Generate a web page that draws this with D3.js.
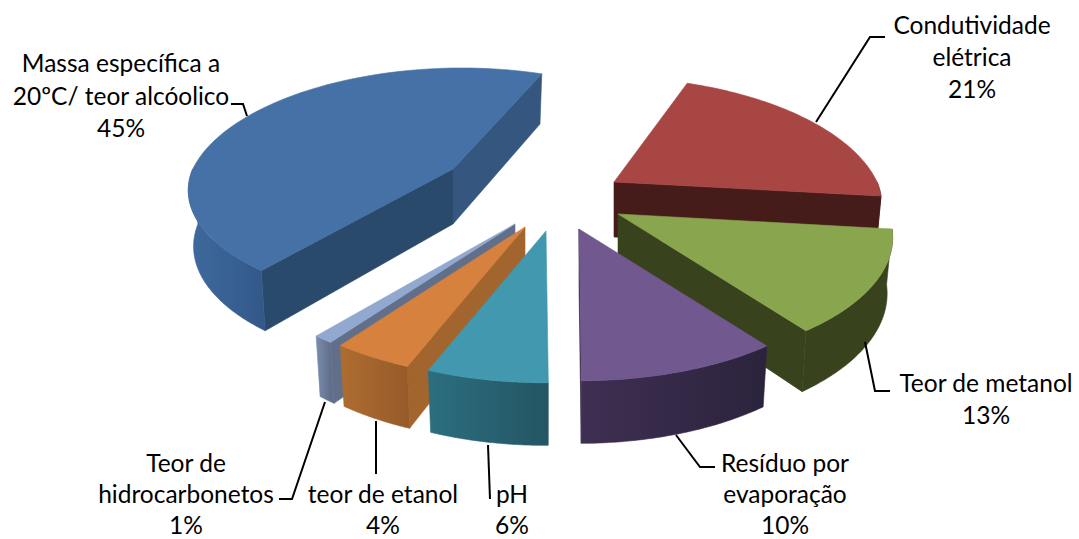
<!DOCTYPE html>
<html>
<head>
<meta charset="utf-8">
<script src="https://cdn.jsdelivr.net/npm/d3@7"></script>
<style>
    html, body { margin: 0; padding: 0; background: #fff; }
    svg { display: block; }
    text { font-family: Lato, "Open Sans", sans-serif; font-size: 24.5px; fill: #000; }
</style>
</head>
<body>
<div id="chart"></div>
<script>
var categories = ["Condutividade elétrica", "Teor de metanol", "Resíduo por evaporação", "pH",
    "teor de etanol", "Teor de hidrocarbonetos", "Massa específica a 20ºC/ teor alcóolico"];
var percents = [21, 13, 10, 6, 4, 1, 45];

// slice colours: top face, cut faces, outer wall gradient stops
var topColors = ["#a84644", "#89a54e", "#71588f", "#4198af", "#d6813d", "#91a8cf", "#4571a6"];
var endFaceColors = ["#451c19", "#38431e", "#2b233c", "#245563", "#a3652e", "#626f8b", "#35567f"];
var startFaceColors = ["#451c19", "#38431e", "#2b233c", "#245563", "#a3652e", "#626f8b", "#2a4a6b"];
var wallFrom = ["#451c19", "#38431e", "#2b233c", "#245563", "#975b2a", "#626f8b", "#33598a"];
var wallTo = ["#451c19", "#38431e", "#3f2f52", "#2c6e7f", "#ae6d30", "#7a8cae", "#3f6a9d"];

// how far each slice is pulled out of the pie, and label layout
var explode = [[79, -8], [83, 24], [44, 39], [11, 41], [-10, 37], [-20, 34], [-82, -21]];
var labelLines = [
    ["Condutividade", "elétrica", "21%"],
    ["Teor de metanol", "13%"],
    ["Resíduo por", "evaporação", "10%"],
    ["pH", "6%"],
    ["teor de etanol", "4%"],
    ["Teor de", "hidrocarbonetos", "1%"],
    ["Massa específica a", "20ºC/ teor alcóolico", "45%"]
];
var labelPos = [[972, 34], [986, 392], [785, 472], [512, 503], [383, 503], [186, 472], [121, 72]];
var labelStep = [32, 32, 31, 31, 31, 31, 32.5];
var leaders = [
    [[885, 37], [870, 37], [816, 122]],
    [[890, 391], [875, 391], [865, 342]],
    [[715, 467], [700, 467], [676, 435]],
    [[490, 499], [488, 445]],
    [[376, 474], [376, 421]],
    [[279, 499], [292, 499], [325, 402]],
    [[231, 104], [243, 104], [247, 116]]
];

var width = 1079, height = 539;
var center = [535, 190];
var radius = 270, foreshorten = 124, perspective = 0.183, thickness = 55;

var svg = d3.select("#chart").append("svg")
    .attr("width", width)
    .attr("height", height);
var defs = svg.append("defs");

var pie = d3.pie().sort(null)
    .startAngle(21.2 * Math.PI / 180)
    .endAngle(381.2 * Math.PI / 180);
var arcs = pie(percents);

// pie plane to screen, relative to the slice apex
function project(angle, ox, oy, lower) {
    var u = Math.sin(angle), v = -Math.cos(angle);
    var d = 1 - perspective * v;
    var apexY = center[1] + oy;
    // slices further back come out a little smaller
    var sx = Math.min(1, 1 + (apexY - 214) * 0.0008);
    var sy = v > 0 ? Math.min(1, 1 + (apexY - 215) * 0.002) : Math.min(1, 1 + (apexY - 182) * 0.0028);
    // the far rim leans in towards the middle of the pie
    var lean = v < 0 ? ox * 0.7 * (1 / d - 1) : 0;
    var x = radius * sx * u / d + lean;
    var y = foreshorten * sy * v / d;
    return lower ? [x * 0.98, y * 1.05 + thickness] : [x, y];
}

function anglesBetween(a0, a1) {
    return d3.range(0, 61).map(function (i) { return a0 + (a1 - a0) * i / 60; });
}

var line = d3.line();
var g = svg.append("g");

function face(parent, pts, color) {
    parent.append("path")
        .attr("d", line(pts) + "Z")
        .attr("fill", color)
        .attr("stroke", color)
        .attr("stroke-width", 0.6);
}

// back slices first so the front ones sit over them
var drawOrder = [6, 0, 1, 5, 4, 3, 2];
drawOrder.forEach(function (i) {
    var a = arcs[i];
    var ox = explode[i][0], oy = explode[i][1];
    var s = g.append("g").attr("transform", "translate(" + (center[0] + ox) + "," + (center[1] + oy) + ")");
    var apexLow = [0, thickness];

    // flat cut faces, skipped when they turn away from the viewer
    [[a.startAngle, startFaceColors[i], 1], [a.endAngle, endFaceColors[i], -1]].forEach(function (f) {
        var quad = [[0, 0], project(f[0], ox, oy, false), project(f[0], ox, oy, true), apexLow];
        if (d3.polygonArea(quad) * f[2] > 0) {
            face(s, quad, f[1]);
        }
    });

    // outer wall, only the part turned towards the viewer
    var w0 = Math.max(a.startAngle, Math.PI / 2), w1 = Math.min(a.endAngle, Math.PI * 3 / 2);
    if (w1 > w0) {
        var upper = anglesBetween(w0, w1).map(function (t) { return project(t, ox, oy, false); });
        var lowerEdge = anglesBetween(w1, w0).map(function (t) { return project(t, ox, oy, true); });
        var gid = "wall" + i;
        var xs = upper.map(function (p) { return p[0]; });
        var grad = defs.append("linearGradient").attr("id", gid)
            .attr("gradientUnits", "userSpaceOnUse")
            .attr("x1", d3.min(xs)).attr("x2", d3.max(xs)).attr("y1", 0).attr("y2", 0);
        grad.append("stop").attr("offset", 0).attr("stop-color", wallTo[i]);
        grad.append("stop").attr("offset", 1).attr("stop-color", wallFrom[i]);
        face(s, upper.concat(lowerEdge), "url(#" + gid + ")");
    }

    // top face
    var rim = anglesBetween(a.startAngle, a.endAngle).map(function (t) { return project(t, ox, oy, false); });
    face(s, [[0, 0]].concat(rim), topColors[i]);
});

// leader lines
svg.append("g").selectAll("path").data(leaders).enter().append("path")
    .attr("d", function (d) { return line(d); })
    .attr("fill", "none")
    .attr("stroke", "#000")
    .attr("stroke-width", 2);

// labels, one tspan per row
var labels = svg.append("g").selectAll("text").data(categories).enter().append("text")
    .attr("text-anchor", "middle")
    .attr("transform", function (d, i) { return "translate(" + labelPos[i][0] + "," + labelPos[i][1] + ")"; });
labels.each(function (d, i) {
    d3.select(this).selectAll("tspan").data(labelLines[i]).enter().append("tspan")
        .attr("x", 0)
        .attr("y", function (t, j) { return j * labelStep[i]; })
        .text(function (t) { return t; });
});
</script>
</body>
</html>
